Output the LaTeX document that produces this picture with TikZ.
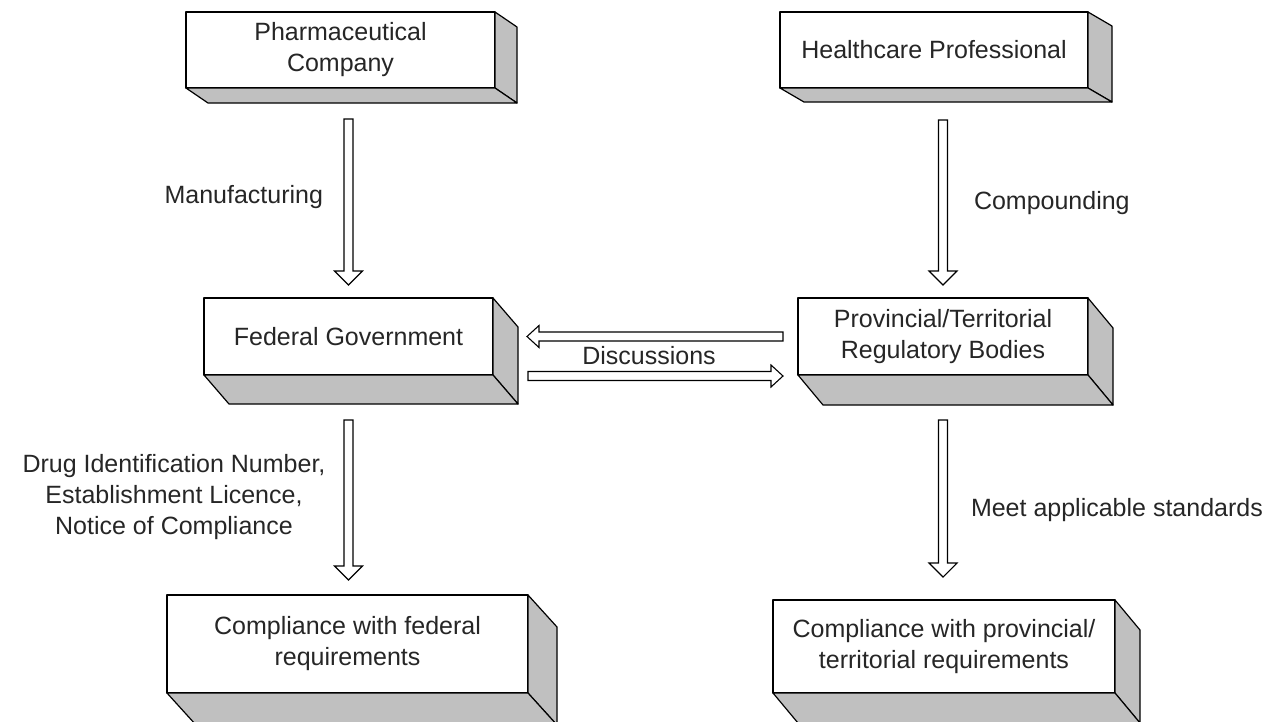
\documentclass[tikz,border=0pt]{standalone}
\usepackage{fontspec}
\setmainfont{Liberation Sans}
\usetikzlibrary{calc}

\definecolor{slabgray}{RGB}{192,192,192}

% shaded right and bottom faces of a 3D box
\newcommand{\slabsides}[3]{%
  \filldraw[fill=slabgray] (#1.north east) -- ++(#2,#3) -- ($(#1.south east)+(#2,#3)$) -- (#1.south east) -- cycle;
  \filldraw[fill=slabgray] (#1.south west) -- ++(#2,#3) -- ($(#1.south east)+(#2,#3)$) -- (#1.south east) -- cycle;
}
\def\hh{14pt}
\def\hl{14pt}

\begin{document}
\begin{tikzpicture}[x=1pt, y=-1pt, line width=1.2pt, line join=round,
  every node/.style={font=\fontsize{25}{31}\selectfont, text=black!85, inner sep=0pt, outer sep=0pt},
  slab/.style={draw, fill=white, anchor=north west, align=center},
  hollow/.style={line width=1.1pt, line join=miter, to path={
      ($(\tikztostart)!4.5pt!90:(\tikztotarget)$)
      -- ($(\tikztotarget)!\hl!(\tikztostart)!4.5pt!90:(\tikztotarget)$)
      -- ($(\tikztotarget)!\hl!(\tikztostart)!\hh!90:(\tikztotarget)$)
      -- (\tikztotarget)
      -- ($(\tikztotarget)!\hl!(\tikztostart)!\hh!-90:(\tikztotarget)$)
      -- ($(\tikztotarget)!\hl!(\tikztostart)!4.5pt!-90:(\tikztotarget)$)
      -- ($(\tikztostart)!4.5pt!-90:(\tikztotarget)$) -- cycle}}]
  \useasboundingbox (0,0) rectangle (1273,721);
  \clip (0,0) rectangle (1273,721);

  % boxes
  \node[slab, minimum width=309pt, minimum height=76pt] (pharma) at (186,12) {Pharmaceutical\\Company};
  \node[slab, minimum width=308pt, minimum height=76pt] (health) at (780,12) {Healthcare Professional};
  \node[slab, minimum width=289pt, minimum height=77pt] (federal) at (204,298) {Federal Government};
  \node[slab, minimum width=290pt, minimum height=77pt] (prov) at (798,298) {Provincial/Territorial\\Regulatory Bodies};
  \node[slab, minimum width=361pt, minimum height=98pt] (compfed) at (167,595) {Compliance with federal\\requirements};
  \node[slab, minimum width=342pt, minimum height=93pt] (compprov) at (773,600) {Compliance with provincial/\\territorial requirements};

  \slabsides{pharma}{22}{15}
  \slabsides{health}{24}{14}
  \slabsides{federal}{25}{29}
  \slabsides{prov}{25}{30}
  \slabsides{compfed}{29}{32}
  \slabsides{compprov}{25}{30}

  % arrows
  \draw[hollow] ($(pharma.south -| federal.north)+(0,31)$) to ($(federal.north)+(0,-13)$);
  \draw[hollow] ($(health.south -| prov.north)+(0,32)$) to ($(prov.north)+(0,-13)$);
  \draw[hollow] ($(federal.south)+(0,45)$) to ($(compfed.north -| federal.south)+(0,-15)$);
  \draw[hollow] ($(prov.south)+(0,45)$) to ($(compprov.north -| prov.south)+(0,-23)$);
  \def\hh{11pt}
  \def\hl{12pt}
  \draw[hollow] ($(prov.west)+(-15,0)$) to ($(federal.east)+(34,0)$);
  \draw[hollow] ($(federal.south east)+(35,1)$) to ($(prov.south west)+(-15,1)$);

  % labels
  \node[anchor=east] (manu) at (323,197) {Manufacturing};
  \node[anchor=west] (compo) at (974,203) {Compounding};
  \node (disc) at (649,356) {Discussions};
  \node[align=center] (din) at (174,497) {Drug Identification Number,\\Establishment Licence,\\Notice of Compliance};
  \node[anchor=west] (meet) at (971,510) {Meet applicable standards};
\end{tikzpicture}
\end{document}
